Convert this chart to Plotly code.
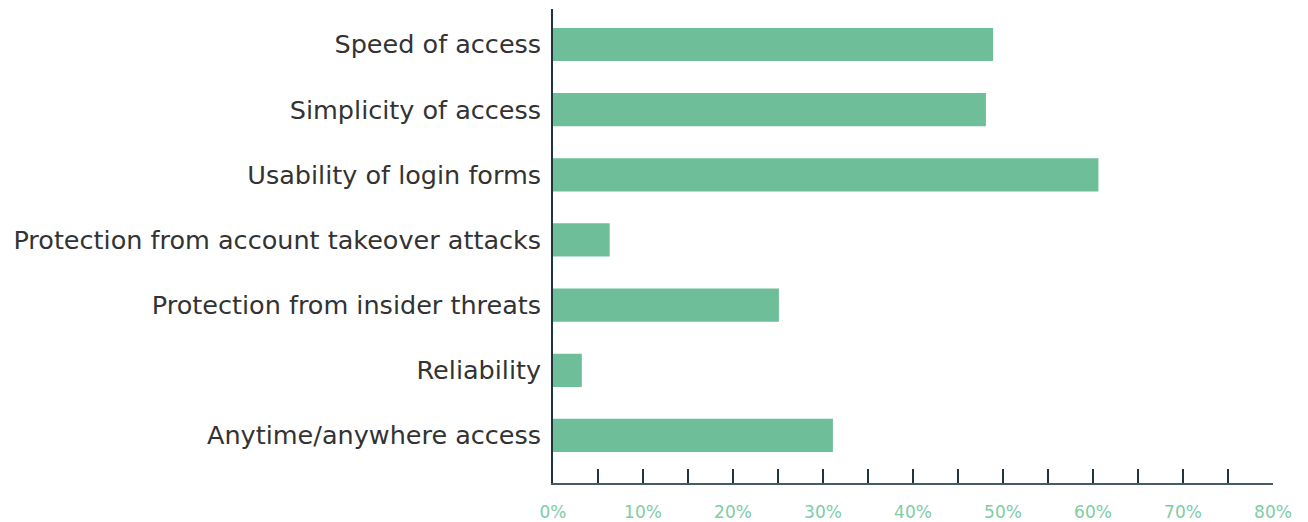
import plotly.graph_objects as go

categories = [
    "Speed of access",
    "Simplicity of access",
    "Usability of login forms",
    "Protection from account takeover attacks",
    "Protection from insider threats",
    "Reliability",
    "Anytime/anywhere access",
]
values = [48.9, 48.1, 60.6, 6.3, 25.1, 3.2, 31.1]

tick_vals = list(range(0, 85, 5))
tick_text = [f"{v}%" if v % 10 == 0 else "" for v in tick_vals]

FONT = "DejaVu Sans, sans-serif"

fig = go.Figure(
    go.Bar(
        x=values,
        y=categories,
        orientation="h",
        marker=dict(color="#6dbe99", line=dict(width=0)),
        hoverinfo="x+y",
    )
)

fig.update_layout(
    width=1308,
    height=522,
    margin=dict(l=545, r=43, t=1, b=47),
    paper_bgcolor="white",
    plot_bgcolor="white",
    bargap=0.49,
    showlegend=False,
    font=dict(family=FONT),
)

fig.update_xaxes(
    range=[0, 80],
    tickvals=tick_vals,
    ticktext=tick_text,
    ticks="inside",
    ticklen=14,
    tickwidth=1.5,
    tickcolor="#1f3340",
    showline=True,
    linecolor="#4a5a63",
    linewidth=1.5,
    showgrid=False,
    zeroline=False,
    tickfont=dict(size=17, color="#80cca5", family=FONT),
    ticklabelstandoff=13,
)

fig.update_yaxes(
    categoryorder="array",
    categoryarray=categories,
    range=[6.73, -0.545],
    showline=True,
    linecolor="#1f3340",
    linewidth=1.5,
    ticks="",
    showgrid=False,
    zeroline=False,
    tickfont=dict(size=25.5, color="#333333", family=FONT),
    ticklabelstandoff=5,
)

fig.write_html("out.html")
